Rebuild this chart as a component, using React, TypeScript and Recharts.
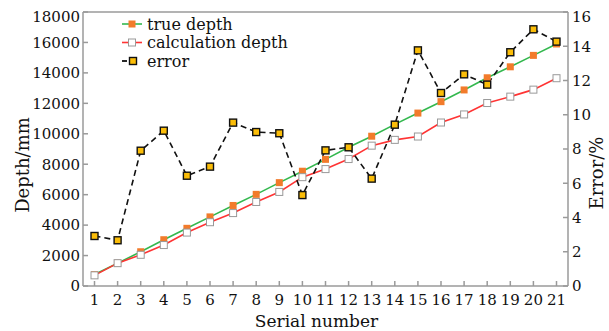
import {
  ComposedChart,
  Line,
  XAxis,
  YAxis,
  Legend,
  ReferenceLine,
} from "recharts";

const serials = [1, 2, 3, 4, 5, 6, 7, 8, 9, 10, 11, 12, 13, 14, 15, 16, 17, 18, 19, 20, 21];
const trueDepth = [750, 1500, 2250, 3040, 3790, 4540, 5290, 6020, 6790, 7540, 8320, 9110, 9840, 10620, 11360, 12110, 12880, 13680, 14400, 15150, 15900];
const calcDepth = [700, 1500, 2050, 2690, 3510, 4190, 4790, 5520, 6180, 7150, 7680, 8340, 9220, 9600, 9820, 10740, 11270, 12020, 12440, 12900, 13650];
const errorPct = [2.92, 2.67, 7.9, 9.07, 6.44, 6.97, 9.54, 8.99, 8.92, 5.31, 7.92, 8.1, 6.27, 9.42, 13.76, 11.27, 12.36, 11.76, 13.65, 14.99, 14.27];
const depthTicks = [0, 2000, 4000, 6000, 8000, 10000, 12000, 14000, 16000, 18000];
const errorTicks = [0, 2, 4, 6, 8, 10, 12, 14, 16];

const data = serials.map((s, i) => ({
  serial: s,
  trueDepth: trueDepth[i],
  calcDepth: calcDepth[i],
  error: errorPct[i],
}));

const FONT = "'DejaVu Serif', serif";
const AXIS = "#9a9a9a";
const GREEN = "#33b84e";
const ORANGE = "#f27b2b";
const RED = "#ff3434";
const GOLD = "#fbbd08";

const squareDot = (size: number, fill: string, stroke: string, sw: number) =>
  (props: any) => {
    const { cx, cy, index } = props;
    return (
      <rect
        key={`d-${index}`}
        x={cx - size / 2}
        y={cy - size / 2}
        width={size}
        height={size}
        fill={fill}
        stroke={stroke}
        strokeWidth={sw}
      />
    );
  };

// top label sits a little below its tick, like the original
const yTick = (max: number, anchor: "start" | "end") => (props: any) => {
  const { x, y, payload } = props;
  const shift = payload.value === max ? 5 : 0;
  return (
    <text
      x={x}
      y={y + shift}
      dy="0.355em"
      textAnchor={anchor}
      fontFamily={FONT}
      fontSize={15}
      fill="#111"
    >
      {payload.value}
    </text>
  );
};

const legendItems = [
  { name: "true depth", line: GREEN, fill: ORANGE, stroke: "none", dash: false },
  { name: "calculation depth", line: RED, fill: "#fff", stroke: "#999", dash: false },
  { name: "error", line: "#111", fill: GOLD, stroke: "#111", dash: true },
];

const renderLegend = () => (
  <svg width={200} height={60} style={{ overflow: "visible" }}>
    {legendItems.map((it, i) => {
      const y = 10 + i * 18.5;
      return (
        <g key={it.name}>
          {it.dash ? (
            <line x1={0} x2={5} y1={y} y2={y} stroke={it.line} strokeWidth={1.8} />
          ) : (
            <line x1={0} x2={20} y1={y} y2={y} stroke={it.line} strokeWidth={1.6} />
          )}
          <rect
            x={it.dash ? 7.5 : 6.5}
            y={y - 3.5}
            width={7}
            height={7}
            fill={it.fill}
            stroke={it.stroke}
            strokeWidth={it.dash ? 1.4 : 1}
          />
          <text x={25} y={y + 5.5} fontFamily={FONT} fontSize={16} fill="#111">
            {it.name}
          </text>
        </g>
      );
    })}
  </svg>
);

export default function App() {
  return (
    <div style={{ position: "absolute", left: 0, top: 0, background: "#fff" }}>
      <ComposedChart
        width={609}
        height={331}
        data={data}
        margin={{ top: 12, right: 0, bottom: 0, left: 0 }}
      >
        <XAxis
          dataKey="serial"
          height={45}
          padding={{ left: 11.5, right: 11.5 }}
          stroke={AXIS}
          strokeWidth={1.5}
          tickSize={-5}
          tickMargin={13}
          interval={0}
          tick={{ fill: "#111", fontFamily: FONT, fontSize: 15 }}
          label={{
            value: "Serial number",
            position: "center",
            dx: -9,
            dy: 12,
            fill: "#111",
            fontFamily: FONT,
            fontSize: 17,
          }}
        />
        <YAxis
          yAxisId="left"
          width={83}
          domain={[0, 18000]}
          ticks={depthTicks}
          stroke={AXIS}
          strokeWidth={1.5}
          tickSize={-5}
          tickMargin={8}
          interval={0}
          tick={yTick(18000, "end")}
          label={{
            value: "Depth/mm",
            position: "center",
            angle: -90,
            dx: -19,
            dy: 16,
            fill: "#111",
            fontFamily: FONT,
            fontSize: 18,
          }}
        />
        <YAxis
          yAxisId="right"
          orientation="right"
          width={41}
          domain={[0, 16]}
          ticks={errorTicks}
          stroke={AXIS}
          strokeWidth={1.5}
          tickSize={-5}
          tickMargin={9}
          interval={0}
          tick={yTick(16, "start")}
          label={{
            value: "Error/%",
            position: "center",
            angle: -90,
            dx: 8,
            dy: 24,
            fill: "#111",
            fontFamily: FONT,
            fontSize: 18,
          }}
        />
        <ReferenceLine yAxisId="left" y={18000} stroke={AXIS} strokeWidth={1.5} />
        <Legend
          layout="vertical"
          align="center"
          verticalAlign="middle"
          content={renderLegend}
          wrapperStyle={{ left: 122, top: 14, width: 200, height: 60 }}
        />
        <Line
          yAxisId="left"
          dataKey="trueDepth"
          name="true depth"
          stroke={GREEN}
          strokeWidth={1.6}
          dot={squareDot(7, ORANGE, "none", 0)}
          isAnimationActive={false}
        />
        <Line
          yAxisId="left"
          dataKey="calcDepth"
          name="calculation depth"
          stroke={RED}
          strokeWidth={1.6}
          dot={squareDot(7, "#fff", "#999", 1)}
          isAnimationActive={false}
        />
        <Line
          yAxisId="right"
          dataKey="error"
          name="error"
          stroke="#111"
          strokeWidth={1.6}
          strokeDasharray="6 4"
          dot={squareDot(7, GOLD, "#111", 1.4)}
          isAnimationActive={false}
        />
      </ComposedChart>
    </div>
  );
}
